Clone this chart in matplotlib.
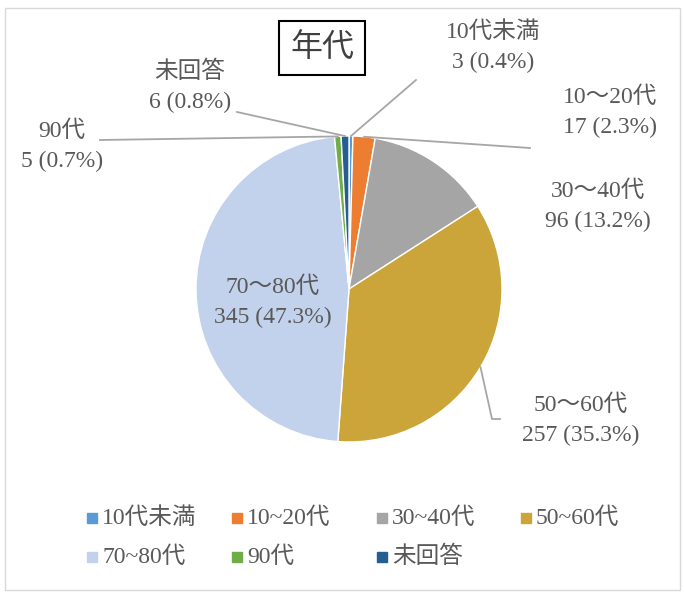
import matplotlib
matplotlib.use("Agg")
import matplotlib.pyplot as plt
import numpy as np
from matplotlib.patches import Rectangle
from matplotlib.lines import Line2D

plt.rcParams["font.family"] = ["Liberation Serif", "Noto Sans CJK JP", "DejaVu Sans"]

# data
categories = ["10代未満", "10~20代", "30~40代", "50~60代", "70~80代", "90代", "未回答"]
label_names = ["10代未満", "10～20代", "30～40代", "50～60代", "70～80代", "90代", "未回答"]
counts = [3, 17, 96, 257, 345, 5, 6]
percents = [0.4, 2.3, 13.2, 35.3, 47.3, 0.7, 0.8]
colors = ["#5B9BD5", "#ED7D31", "#A5A5A5", "#CBA53A", "#C3D2EC", "#70AD47", "#255E91"]

W, H = 685, 594
CX, CY, R = 349, 289, 153
TXT = "#595959"
LEAD = "#A6A6A6"


def px(x, y):
    # pixel -> pie data coords
    return (x - CX) / R, (CY - y) / R


fig = plt.figure(figsize=(W / 100, H / 100), dpi=100)
fig.patches.append(Rectangle((5 / W, 4 / H), 675 / W, 582 / H, transform=fig.transFigure,
                             fill=False, edgecolor="#D9D9D9", lw=1))

ax = fig.add_axes([(CX - R) / W, 1 - (CY + R) / H, 2 * R / W, 2 * R / H])
wedges, _ = ax.pie(counts, colors=colors, startangle=90, counterclock=False, radius=1,
                   wedgeprops=dict(edgecolor="white", linewidth=1))
ax.set_xlim(-1, 1)
ax.set_ylim(-1, 1)
ax.set_aspect("auto")
ax.axis("off")

# title box
fig.text(322 / W, 1 - 48 / H, "年代", ha="center", va="center", fontsize=23,
         color="#404040", family=["Noto Sans CJK JP"],
         bbox=dict(boxstyle="square,pad=0.35", fc="white", ec="black", lw=1.5))

# label placement: text centre (px), leader end points (px) or None
label_pos = {
    0: ((493, 47), [(416, 80)]),
    1: ((610, 112), [(530, 148)]),
    2: ((598, 206), None),
    3: ((581, 420), [(492, 419), (500, 419)]),
    4: ((273, 302), None),
    5: ((62, 146), [(100, 140)]),
    6: ((190, 87), [(237, 112)]),
}

total = sum(counts)
cum = 0
for i, c in enumerate(counts):
    mid = 90 - (cum + c / 2) / total * 360
    cum += c
    (tx, ty), lead = label_pos[i]
    x, y = px(tx, ty)
    ax.text(x, y, f"{label_names[i]}\n{counts[i]} ({percents[i]}%)", ha="center", va="center",
            fontsize=17, color=TXT, linespacing=1.55, clip_on=False)
    if lead:
        a = np.deg2rad(mid)
        xs = [np.cos(a)] + [px(*p)[0] for p in lead]
        ys = [np.sin(a)] + [px(*p)[1] for p in lead]
        ax.add_line(Line2D(xs, ys, color=LEAD, lw=1.3, clip_on=False))

# legend drawn by hand: 4 equal columns, row-major
col_x = [92, 237, 382, 526]
row_y = [518, 557]
for i, name in enumerate(categories):
    mx, my = col_x[i % 4], row_y[i // 4]
    fig.add_artist(Line2D([mx / W], [1 - my / H], marker="s", ls="", ms=7.5,
                          color=colors[i], transform=fig.transFigure))
    fig.text((mx + 10) / W, 1 - my / H, name, ha="left", va="center",
             fontsize=17, color=TXT)

fig.savefig("out.png", dpi=100)
